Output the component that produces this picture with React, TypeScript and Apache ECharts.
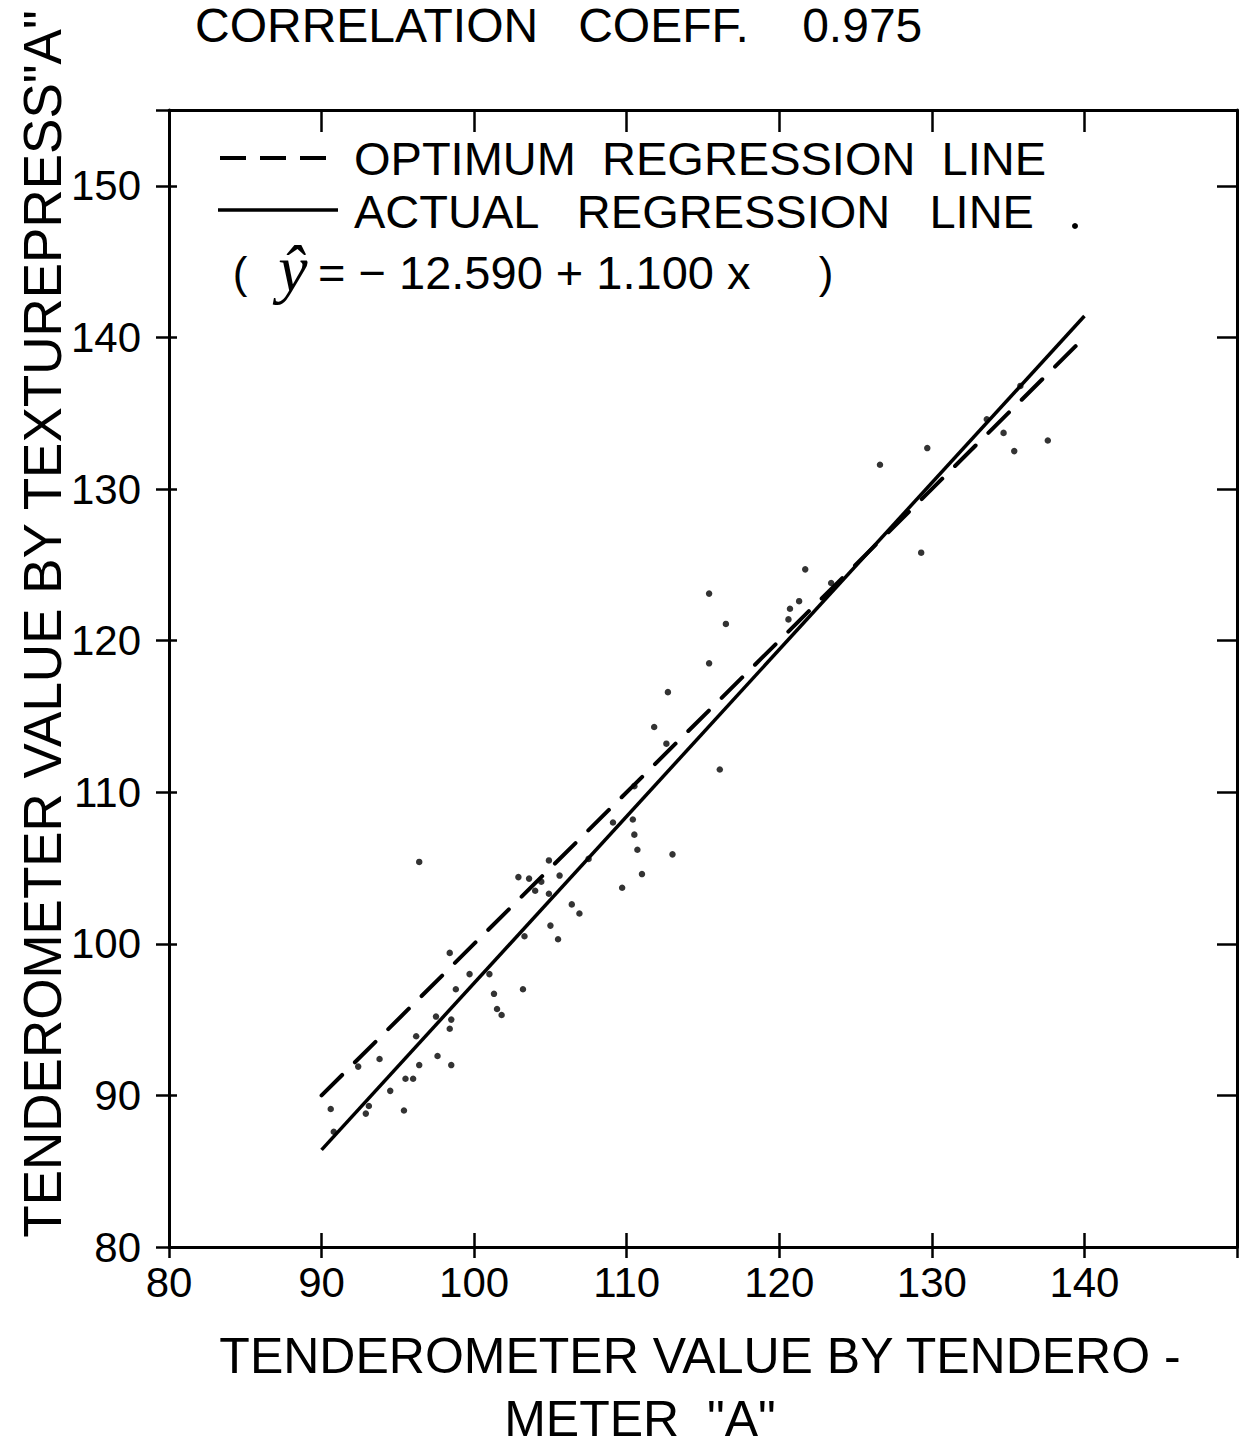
import React, { useEffect, useRef } from "react";
import * as echarts from "echarts";

const FONT = "Liberation Sans";

// Scatter points: [tenderometer A, texturepress A]
const points: [number, number][] = [
  [96.4, 105.4], [104.9, 105.5], [102.9, 104.4], [103.6, 104.3], [104.4, 104.1],
  [104.0, 103.5], [105.6, 104.5], [107.5, 105.6], [110.4, 108.2], [110.5, 107.2],
  [110.7, 106.2], [111.0, 104.6], [109.7, 103.7], [113.0, 105.9], [109.1, 108.0],
  [106.4, 102.6], [106.9, 102.0], [105.0, 101.2], [105.5, 100.3], [103.3, 100.5],
  [98.4, 99.4], [99.7, 98.0], [101.0, 98.0], [98.8, 97.0], [101.3, 96.7],
  [103.2, 97.0], [101.5, 95.7], [101.8, 95.3], [98.5, 95.0], [98.4, 94.4],
  [96.2, 93.9], [93.8, 92.4], [92.4, 91.9], [97.6, 92.6], [96.4, 92.0],
  [98.5, 92.0], [95.5, 91.1], [96.0, 91.1], [94.5, 90.3], [93.1, 89.3],
  [92.9, 88.8], [95.4, 89.0], [90.6, 89.1], [90.8, 87.6], [121.7, 124.7],
  [115.4, 123.1], [116.5, 121.1], [121.3, 122.6], [120.7, 122.1], [120.6, 121.4],
  [115.4, 118.5], [112.7, 116.6], [111.8, 114.3], [112.6, 113.2], [116.1, 111.5],
  [110.5, 110.4], [135.8, 136.8], [133.6, 134.6], [134.7, 133.7], [137.6, 133.2],
  [135.4, 132.5], [129.7, 132.7], [126.6, 131.6], [129.3, 125.8], [104.9, 103.3],
  [97.5, 95.2], [123.4, 123.8],
];

// Regression line end points
const optimumLine: [number, number][] = [[90, 90], [140, 140]];
const actualLine: [number, number][] = [[90, 86.41], [140, 141.41]];

const xTicks = { min: 80, max: 150, interval: 10 };
const yTicks = { min: 80, max: 155, interval: 10 };

const titleText = "CORRELATION   COEFF.    0.975";
const yTitle = 'TENDEROMETER VALUE BY TEXTUREPRESS"A"';
const xTitle1 = "TENDEROMETER VALUE BY TENDERO -";
const xTitle2 = 'METER  "A"';
const legendOptimum = "OPTIMUM  REGRESSION  LINE";
const legendActual = "ACTUAL   REGRESSION   LINE";
const formulaText = "= − 12.590 + 1.100 x";

export default function App() {
  const ref = useRef<HTMLDivElement>(null);
  useEffect(() => {
    if (!ref.current) return;
    const chart = echarts.init(ref.current, null, { renderer: "svg" });
    const black = "#000";
    const axisLine = { show: true, onZero: false, lineStyle: { color: black, width: 3 } };
    const tickStyle = { color: black, width: 2.5 };
    const baseX = { type: "value", ...xTicks, splitLine: { show: false } };
    const baseY = { type: "value", ...yTicks, splitLine: { show: false } };
    chart.setOption({
      animation: false,
      backgroundColor: "#fff",
      grid: { left: 169, top: 110, width: 1068, height: 1137, containLabel: false },
      xAxis: [
        {
          ...baseX,
          position: "bottom",
          axisLine,
          axisTick: { show: true, inside: true, length: 14, lineStyle: tickStyle },
          axisLabel: {
            show: true,
            fontSize: 42,
            color: black,
            fontFamily: FONT,
            margin: 14,
            formatter: (v: number) => (v === 150 ? "" : String(v)),
          },
        },
        {
          ...baseX,
          position: "bottom",
          axisLine: { show: false, onZero: false },
          axisTick: { show: true, inside: false, length: 11, lineStyle: tickStyle },
          axisLabel: { show: false },
        },
        {
          ...baseX,
          position: "top",
          axisLine,
          axisTick: { show: true, inside: true, length: 22, lineStyle: tickStyle },
          axisLabel: { show: false },
        },
      ],
      yAxis: [
        {
          ...baseY,
          position: "left",
          axisLine,
          axisTick: { show: true, inside: true, length: 8, lineStyle: tickStyle },
          axisLabel: {
            show: true,
            fontSize: 42,
            color: black,
            fontFamily: FONT,
            margin: 28,
            showMaxLabel: false,
            formatter: (v: number) => (v === 155 ? "" : String(v)),
          },
        },
        {
          ...baseY,
          position: "left",
          axisLine: { show: false, onZero: false },
          axisTick: { show: true, inside: false, length: 13, lineStyle: tickStyle },
          axisLabel: { show: false },
        },
        {
          ...baseY,
          position: "right",
          axisLine,
          axisTick: { show: true, inside: true, length: 20, lineStyle: tickStyle },
          axisLabel: { show: false },
        },
      ],
      series: [
        {
          type: "scatter",
          xAxisIndex: 0,
          yAxisIndex: 0,
          data: points,
          symbol: "circle",
          symbolSize: 6.5,
          itemStyle: { color: black },
          silent: true,
        },
        {
          type: "line",
          xAxisIndex: 0,
          yAxisIndex: 0,
          data: optimumLine,
          showSymbol: false,
          symbol: "none",
          lineStyle: { color: black, width: 4, type: [29, 18], cap: "round" },
          silent: true,
        },
        {
          type: "line",
          xAxisIndex: 0,
          yAxisIndex: 0,
          data: actualLine,
          showSymbol: false,
          symbol: "none",
          lineStyle: { color: black, width: 3.5, type: "solid" },
          silent: true,
        },
      ],
      graphic: [
        {
          type: "text",
          x: 195,
          y: 1,
          style: { text: titleText, fontSize: 48, fontFamily: FONT, fill: black, align: "left", verticalAlign: "top" },
        },
        {
          type: "text",
          x: 42,
          y: 624,
          rotation: Math.PI / 2,
          style: { text: yTitle, fontSize: 53, fontFamily: FONT, fill: black, align: "center", verticalAlign: "middle" },
        },
        {
          type: "text",
          x: 700,
          y: 1356,
          style: { text: xTitle1, fontSize: 50, fontFamily: FONT, fill: black, align: "center", verticalAlign: "middle" },
        },
        {
          type: "text",
          x: 640,
          y: 1444,
          style: { text: xTitle2, fontSize: 50, fontFamily: FONT, fill: black, align: "center", verticalAlign: "bottom" },
        },
        {
          type: "line",
          shape: { x1: 220, y1: 158, x2: 340, y2: 158 },
          style: { stroke: black, lineWidth: 4, lineDash: [26, 14] },
        },
        {
          type: "line",
          shape: { x1: 218, y1: 210, x2: 338, y2: 210 },
          style: { stroke: black, lineWidth: 3.5 },
        },
        {
          type: "text",
          x: 354,
          y: 158,
          style: { text: legendOptimum, fontSize: 47, fontFamily: FONT, fill: black, align: "left", verticalAlign: "middle" },
        },
        {
          type: "text",
          x: 354,
          y: 211,
          style: { text: legendActual, fontSize: 47, fontFamily: FONT, fill: black, align: "left", verticalAlign: "middle" },
        },
        {
          type: "circle",
          shape: { cx: 1075, cy: 226, r: 3 },
          style: { fill: black },
        },
        {
          type: "text",
          x: 240,
          y: 272,
          style: { text: "(", fontSize: 44, fontFamily: FONT, fill: black, align: "center", verticalAlign: "middle" },
        },
        {
          type: "text",
          x: 293,
          y: 268,
          style: { text: "ŷ", fontSize: 66, fontFamily: "Liberation Serif", fontStyle: "italic", fill: black, align: "center", verticalAlign: "middle" },
        },
        {
          type: "text",
          x: 318,
          y: 272,
          style: { text: formulaText, fontSize: 47, fontFamily: FONT, fill: black, align: "left", verticalAlign: "middle" },
        },
        {
          type: "text",
          x: 826,
          y: 272,
          style: { text: ")", fontSize: 44, fontFamily: FONT, fill: black, align: "center", verticalAlign: "middle" },
        },
      ],
    });
    return () => chart.dispose();
  }, []);
  return (
    <div
      ref={ref}
      style={{ position: "absolute", left: 0, top: 0, width: 1242, height: 1446, background: "#fff" }}
    />
  );
}
